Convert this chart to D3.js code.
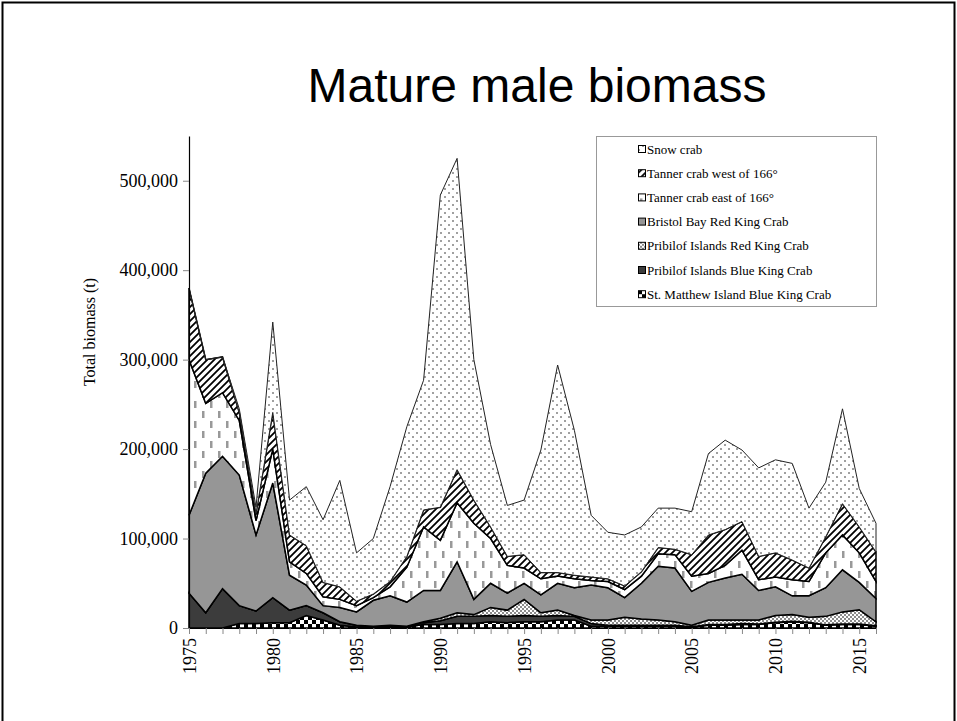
<!DOCTYPE html>
<html>
<head>
<meta charset="utf-8">
<script src="https://cdn.jsdelivr.net/npm/d3@7"></script>
<style>
    body { margin: 0; background: #fff; }
    text { font-family: "Liberation Serif", "Times New Roman", serif; }
</style>
</head>
<body>
<div id="my_chart"></div>
<script>
//== DATA (thousand t) ======================================//
var years = [1975, 1976, 1977, 1978, 1979, 1980, 1981, 1982, 1983, 1984,
    1985, 1986, 1987, 1988, 1989, 1990, 1991, 1992, 1993, 1994,
    1995, 1996, 1997, 1998, 1999, 2000, 2001, 2002, 2003, 2004,
    2005, 2006, 2007, 2008, 2009, 2010, 2011, 2012, 2013, 2014,
    2015, 2016];

var smbkc = [0, 0, 0, 5, 5, 6, 6, 14, 9, 3,
    1, 1, 1, 1, 4, 4, 5, 5, 7, 6,
    7, 7, 9, 9, 2, 2, 2, 2, 2, 2,
    1, 3, 3, 4, 4, 6, 7, 6, 3, 4,
    4, 2];
var pibkc = [39, 17, 44, 20, 14, 28, 14, 11, 8, 4,
    2, 1, 2, 1, 2, 4, 8, 8, 7, 7,
    7, 6, 5, 4, 3, 1, 1, 1, 1, 1,
    0.5, 1, 1, 1, 0.5, 0.5, 0.5, 0.5, 0.5, 0.5,
    0.5, 0.5];
var pirkc = [0, 0, 0, 0, 0, 0, 0, 0, 0, 0,
    0, 0, 0, 0, 1, 3, 4, 2, 9, 7,
    18, 4, 6, 1, 4, 6, 9, 7, 6, 4,
    1.5, 5, 5, 4, 4.5, 7.5, 7.5, 5.5, 9.5, 13.5,
    16, 4.5];
var bbrkc = [87, 156, 148, 146, 85, 128, 39, 23, 8, 16,
    15, 29, 33, 27, 35, 31, 57, 17, 27, 19,
    18, 20, 30, 31, 39, 36, 22, 40, 60, 60,
    38, 42, 47, 51, 33, 32, 21, 24, 32, 47,
    30.5, 26];
var tannerE = [174, 78, 71, 61, 16, 38, 15, 13, 10, 9,
    7, 3, 10, 39, 71, 56, 66, 85, 50, 31,
    17, 18, 8, 10, 5, 7, 9, 8, 14, 15,
    17, 10, 14, 27, 12, 11, 18, 16, 39, 39,
    33, 19];
var tannerW = [80, 49, 40, 9, 8, 41, 30, 31, 16, 14,
    5, 4, 6, 12, 19, 37, 37, 26, 13, 10,
    15, 7, 4, 4, 4, 3, 4, 5, 7, 6,
    24, 43, 40, 32, 26, 27, 22, 15, 18, 35,
    29, 33];
var snow = [0, 0, 0, 4, 7, 101, 39, 66, 70, 119,
    54, 62, 106, 145, 145, 349, 348, 157, 92, 57,
    61, 137, 232, 162, 69, 52, 57, 50, 44, 46,
    48, 91, 100, 80, 99, 104, 108, 67, 61, 106,
    43, 32];

// legend order, top to bottom
var seriesNames = ["Snow crab", "Tanner crab west of 166°", "Tanner crab east of 166°",
    "Bristol Bay Red King Crab", "Pribilof Islands Red King Crab",
    "Pribilof Islands Blue King Crab", "St. Matthew Island Blue King Crab"];
var seriesKeys = ["snow", "tw", "te", "bb", "prkc", "pbkc", "smbkc"];
var seriesFills = ["url(#p-snow)", "url(#p-tw)", "url(#p-te)", "#969696",
    "url(#p-prkc)", "#3c3c3c", "url(#p-smbkc)"];

var yTicks = [0, 100000, 200000, 300000, 400000, 500000];
var xLabels = [1975, 1980, 1985, 1990, 1995, 2000, 2005, 2010, 2015];

var title = "Mature male biomass";
var yTitle = "Total biomass (t)";

//== BUILD TABLE ===========================================//
var data = [];
for (var ii = 0; ii < years.length; ii++) {
    data.push({
        year: years[ii],
        smbkc: smbkc[ii] * 1000,
        pbkc: pibkc[ii] * 1000,
        prkc: pirkc[ii] * 1000,
        bb: bbrkc[ii] * 1000,
        te: tannerE[ii] * 1000,
        tw: tannerW[ii] * 1000,
        snow: snow[ii] * 1000
    });
}

//== PLOT ==================================================//
var W = 957, H = 721;
var svg = d3.select("#my_chart")
    .append("svg")
    .attr("width", W)
    .attr("height", H);

// slide frame
svg.append("rect")
    .attr("x", 2.5).attr("y", 2.5)
    .attr("width", 952).attr("height", 760)
    .attr("fill", "none")
    .attr("stroke", "#000")
    .attr("stroke-width", 2);

// fill patterns
var defs = svg.append("defs");

var pSnow = defs.append("pattern").attr("id", "p-snow")
    .attr("patternUnits", "userSpaceOnUse").attr("width", 8).attr("height", 8);
pSnow.append("rect").attr("width", 8).attr("height", 8).attr("fill", "#fff");
pSnow.append("rect").attr("x", 0).attr("y", 0).attr("width", 2).attr("height", 2).attr("fill", "#a0a0a0");
pSnow.append("rect").attr("x", 4).attr("y", 4).attr("width", 2).attr("height", 2).attr("fill", "#a0a0a0");

var pTw = defs.append("pattern").attr("id", "p-tw")
    .attr("patternUnits", "userSpaceOnUse").attr("width", 7).attr("height", 7);
pTw.append("rect").attr("width", 7).attr("height", 7).attr("fill", "#fff");
pTw.append("path").attr("d", "M-1,8 L8,-1 M-2,2 L2,-2 M5,9 L9,5")
    .attr("stroke", "#000").attr("stroke-width", 1.8);

var pTe = defs.append("pattern").attr("id", "p-te")
    .attr("patternUnits", "userSpaceOnUse").attr("width", 16).attr("height", 20);
pTe.append("rect").attr("width", 16).attr("height", 20).attr("fill", "#fff");
pTe.append("rect").attr("x", 2).attr("y", 1).attr("width", 2.5).attr("height", 7).attr("fill", "#999");
pTe.append("rect").attr("x", 10).attr("y", 11).attr("width", 2.5).attr("height", 7).attr("fill", "#999");

var pPr = defs.append("pattern").attr("id", "p-prkc")
    .attr("patternUnits", "userSpaceOnUse").attr("width", 4).attr("height", 4);
pPr.append("rect").attr("width", 4).attr("height", 4).attr("fill", "#8c8c8c");
pPr.append("rect").attr("x", 0).attr("y", 0).attr("width", 2).attr("height", 2).attr("fill", "#fff");
pPr.append("rect").attr("x", 2).attr("y", 2).attr("width", 2).attr("height", 2).attr("fill", "#fff");

var pSm = defs.append("pattern").attr("id", "p-smbkc")
    .attr("patternUnits", "userSpaceOnUse").attr("width", 8).attr("height", 8);
pSm.append("rect").attr("width", 8).attr("height", 8).attr("fill", "#000");
pSm.append("rect").attr("x", 0).attr("y", 0).attr("width", 4).attr("height", 4).attr("fill", "#fff");
pSm.append("rect").attr("x", 4).attr("y", 4).attr("width", 4).attr("height", 4).attr("fill", "#fff");

// scales
var x = d3.scaleLinear()
    .domain([1975, 2016])
    .range([189, 876]);
var y = d3.scaleLinear()
    .domain([0, 550000])
    .range([628, 136]);

// stacked areas, bottom first
var stackKeys = seriesKeys.slice().reverse();
var stack = d3.stack().keys(stackKeys)(data);

var area = d3.area()
    .x(function (d) { return x(d.data.year) })
    .y0(function (d) { return y(d[0]) })
    .y1(function (d) { return y(d[1]) });

svg.append("g").selectAll("path")
    .data(stack)
    .enter().append("path")
    .attr("d", area)
    .attr("fill", function (d) { return seriesFills[seriesKeys.indexOf(d.key)] })
    .attr("stroke", function (d) { return d.key == "snow" ? "#222" : "#000" })
    .attr("stroke-width", function (d) { return d.key == "snow" ? 1 : 1.5 })
    .attr("stroke-linejoin", "miter");

// Y axis
var yAxis = svg.append("g")
    .attr("transform", "translate(189,0)")
    .call(d3.axisLeft(y).tickValues(yTicks).tickSize(6).tickSizeOuter(0)
        .tickFormat(d3.format(",")));
yAxis.select(".domain").attr("stroke", "#000").attr("stroke-width", 1.2);
yAxis.selectAll(".tick line").attr("stroke", "#888");
yAxis.selectAll("text")
    .attr("font-family", "Liberation Serif, Times New Roman, serif")
    .attr("font-size", 18)
    .attr("fill", "#000")
    .attr("x", -11);

// X axis with a tick every year
var xAxis = svg.append("g")
    .attr("transform", "translate(0,628)")
    .call(d3.axisBottom(x).tickValues(years).tickSize(6).tickSizeOuter(0)
        .tickFormat(function (d) { return xLabels.indexOf(d) >= 0 ? d : "" }));
xAxis.select(".domain").attr("stroke", "#000").attr("stroke-width", 1.2);
xAxis.selectAll(".tick line").attr("stroke", "#888");
xAxis.selectAll("text")
    .attr("font-family", "Liberation Serif, Times New Roman, serif")
    .attr("font-size", 18)
    .attr("fill", "#000")
    .attr("text-anchor", "end")
    .attr("transform", "rotate(-90)")
    .attr("x", -10)
    .attr("y", 0)
    .attr("dy", "0.35em");

// axis title
svg.append("text")
    .attr("text-anchor", "middle")
    .attr("transform", "translate(95,332)rotate(-90)")
    .attr("font-size", 16)
    .text(yTitle);

// chart title
svg.append("text")
    .attr("x", 537)
    .attr("y", 102)
    .attr("text-anchor", "middle")
    .style("font-family", "'Liberation Sans', Arial, sans-serif")
    .attr("font-size", 48)
    .text(title);

// legend
var legend = svg.append("g");
legend.append("rect")
    .attr("x", 596.5).attr("y", 136.5)
    .attr("width", 280).attr("height", 170)
    .attr("fill", "#fff")
    .attr("stroke", "#999");
var rows = legend.selectAll(".row")
    .data(seriesNames)
    .enter().append("g")
    .attr("transform", function (d, i) { return "translate(638," + (149 + i * 24.2) + ")" });
rows.append("rect")
    .attr("x", 0.5).attr("y", -3.5)
    .attr("width", 7).attr("height", 7)
    .attr("fill", function (d, i) { return seriesFills[i] })
    .attr("stroke", "#000");
rows.append("text")
    .attr("x", 9)
    .attr("dy", "0.35em")
    .attr("font-size", 13)
    .text(function (d) { return d });
</script>
</body>
</html>
